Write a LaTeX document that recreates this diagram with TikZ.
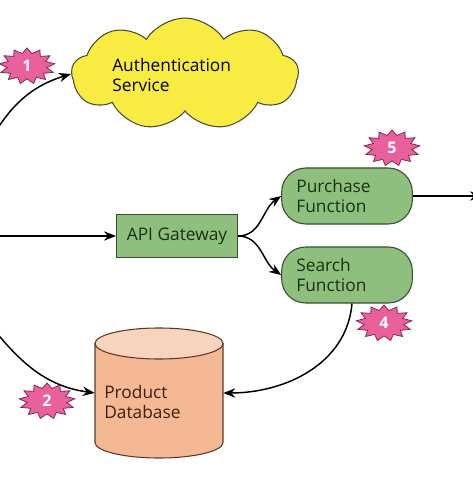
\documentclass[tikz,border=0pt]{standalone}
\usepackage{fontspec}
\setmainfont{Open Sans}
\usetikzlibrary{arrows.meta,positioning,shapes.symbols,shapes.geometric}
\definecolor{gfill}{HTML}{8FBF7E}
\definecolor{gline}{HTML}{34502C}
\definecolor{gtext}{HTML}{173312}
\definecolor{yfill}{HTML}{F8EC43}
\definecolor{dbbody}{HTML}{F4B894}
\definecolor{dbtop}{HTML}{F7D4BE}
\definecolor{dbline}{HTML}{5B3A28}
\definecolor{dbtext}{HTML}{3E1F12}
\definecolor{pinkfill}{HTML}{E8609C}
\definecolor{pinkline}{HTML}{8A2452}
\tikzset{
  txt/.style={font=\fontsize{13}{15}\selectfont},
  gate/.style={txt, draw=gline, fill=gfill, text=gtext, line width=0.8pt,
    minimum width=90.75pt, minimum height=32.25pt, inner sep=0pt},
  func/.style={txt, draw=gline, fill=gfill, text=gtext, line width=0.8pt,
    rounded corners=18pt, align=left, text width=76pt, inner xsep=11pt,
    minimum height=42pt},
  cloudbox/.style={cloud, cloud puffs=9, cloud puff arc=115, cloud ignores aspect,
    draw=black!80!yellow, fill=yfill, line width=0.8pt,
    minimum width=170pt, minimum height=84pt, inner sep=0pt},
  dbframe/.style={minimum width=96pt, minimum height=97.5pt, inner sep=0pt},
  dbpart/.style={draw=dbline, line width=0.8pt},
  burst/.style={star, star points=13, star point ratio=1.4, draw=pinkline,
    fill=pinkfill, line width=0.6pt, minimum size=27pt, inner sep=0pt, xscale=1.55},
  num/.style={text=white, font=\fontsize{12}{12}\selectfont\bfseries},
  arrow/.style={-{Stealth[length=9pt, width=7pt]}, line width=1.1pt},
}
\begin{document}
\begin{tikzpicture}[x=0.75pt, y=-0.75pt]
  \useasboundingbox (0,0) rectangle (473,477);

  % nodes
  \node[cloudbox] (auth) at (185,74) {};
  \node[txt, anchor=west, align=left, inner sep=0pt] (authtxt) at (112,75) {Authentication\\Service};
  \node[gate] (gw) at (177,236) {API Gateway};
  \node[func] (pf) at (347,196) {Purchase\\Function};
  \node[func] (sf) at (347,275) {Search\\Function};

  % database cylinder
  \node[dbframe] (db) at (159,393) {};
  \begin{scope}[shift={(db.center)}]
    \path[dbpart, fill=dbbody] (-64,-49.5) -- (-64,49.5)
      arc[start angle=180, end angle=0, x radius=64, y radius=15.5]
      -- (64,-49.5) -- cycle;
    \path[dbpart, fill=dbtop] (0,-49.5) ellipse [x radius=64, y radius=15.5];
  \end{scope}
  \node[txt, text=dbtext, anchor=west, align=left, inner sep=0pt] (dbtxt) at (104,402) {Product\\Database};

  % loose ends
  \coordinate (in1) at (-12,145);
  \coordinate (in2) at (-12,236);
  \coordinate (in3) at (-12,322);
  \coordinate (out1) at (482,196);

  % connectors
  \draw[arrow] (in1) to[out=62, in=197] (auth.west);
  \draw[arrow] (in2) -- (gw);
  \draw[arrow] (in3) to[out=-52, in=172] (db.west);
  \draw[arrow] (gw.east) to[out=0, in=215] (pf.west);
  \draw[arrow] (gw.east) to[out=0, in=145] (sf.west);
  \draw[arrow] (pf.east) -- (out1);
  \draw[arrow] ([xshift=3.75pt]sf.south) to[out=-95, in=0] (db.east);

  % step markers
  \node[burst] (s1) at (27,66) {};
  \node[num] at (s1) {1};
  \node[burst] (s2) at (47,401) {};
  \node[num] at (s2) {2};
  \node[burst] (s4) at (384,323) {};
  \node[num] at (s4) {4};
  \node[burst] (s5) at (392,148) {};
  \node[num] at (s5) {5};
\end{tikzpicture}
\end{document}
